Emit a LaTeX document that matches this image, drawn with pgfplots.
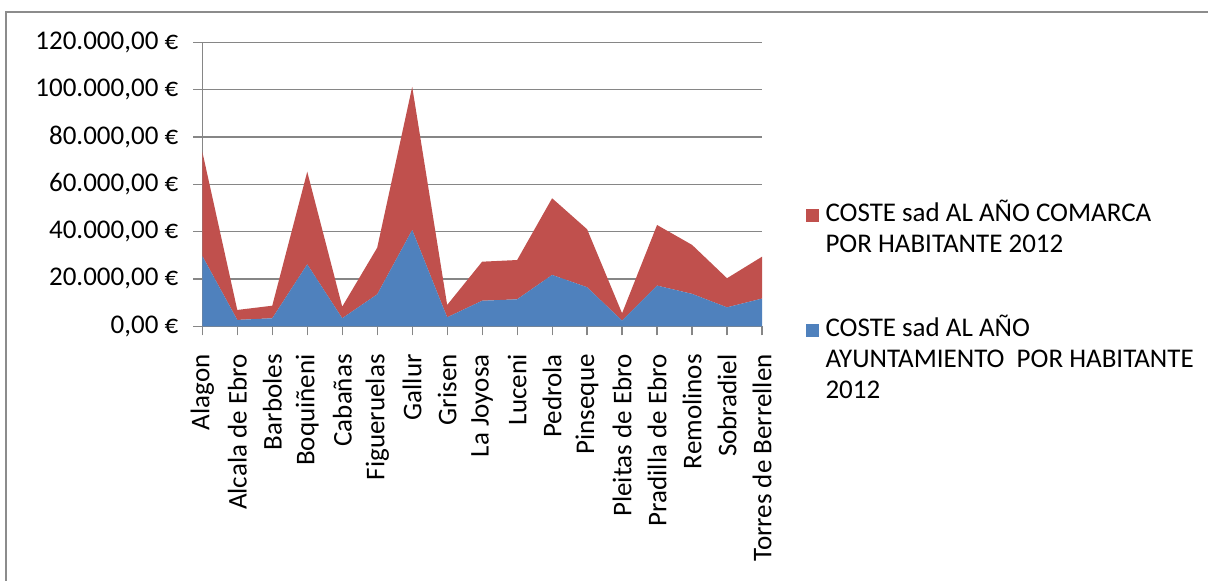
\documentclass[border=0pt]{standalone}
\usepackage{pgfplots}
\pgfplotsset{compat=1.18}
\usepackage{fontspec}
\setmainfont{Carlito}
\definecolor{comarca}{RGB}{192,80,77}
\definecolor{ayto}{RGB}{79,129,189}
\definecolor{gridgray}{RGB}{134,134,134}
\definecolor{framegray}{RGB}{140,140,140}
\newcommand\lbl{\fontsize{13.5}{15.5}\selectfont}
\begin{document}
\begin{tikzpicture}
% canvas: 1 px = 0.5 pt
\useasboundingbox[fill=white] (0pt,0pt) rectangle (604pt,290.5pt);
\draw[framegray, line width=1pt] (3pt,0pt) -- (3pt,284.5pt) -- (604pt,284.5pt);
\begin{axis}[
  at={(101.15pt,127.35pt)}, anchor=south west,
  scale only axis, width=279.85pt, height=142pt,
  xmin=0, xmax=16, ymin=0, ymax=120000,
  stack plots=y,
  scaled y ticks=false,
  axis x line*=bottom, axis y line*=left,
  axis line style={gridgray, line width=0.6pt},
  ytick={0,20000,40000,60000,80000,100000,120000},
  yticklabels={{0,00 €},{20.000,00 €},{40.000,00 €},{60.000,00 €},{80.000,00 €},{100.000,00 €},{120.000,00 €}},
  xtick={0,...,16},
  xticklabels={Alagon,Alcala de Ebro,Barboles,Boquiñeni,Cabañas,Figueruelas,Gallur,Grisen,La Joyosa,Luceni,Pedrola,Pinseque,Pleitas de Ebro,Pradilla de Ebro,Remolinos,Sobradiel,Torres de Berrellen},
  xticklabel style={yshift=-6pt, rotate=90, anchor=east, font=\lbl},
  yticklabel style={xshift=-4pt, font=\lbl},
  tick align=outside,
  major tick length=4.5pt,
  tick style={gridgray, line width=0.6pt},
  ymajorgrids, major grid style={gridgray, line width=0.6pt},
  reverse legend,
  legend style={at={(1.077,0.542)}, anchor=north west, draw=none, fill=none,
    font=\lbl, cells={anchor=north west}, row sep=21.5pt, inner sep=0pt},
  legend image code/.code={\path (0pt,0.3pt) (6.5pt,11.2pt);
    \fill[#1, overlay] (0pt,-13.2pt) rectangle (6.5pt,-6.7pt);},
]
\addplot[fill=ayto, draw=none] coordinates {
 (0,29700) (1,2700) (2,3400) (3,26200) (4,3400) (5,13500) (6,40700) (7,3800) (8,10800)
 (9,11400) (10,21700) (11,16500) (12,2400) (13,17200) (14,13700) (15,8000) (16,11700)
} \closedcycle;
\addlegendentry{\begin{tabular}{@{\hspace{1.5pt}}l@{}}COSTE sad AL AÑO\\AYUNTAMIENTO\ \ POR HABITANTE\\2012\end{tabular}}
\addplot[fill=comarca, draw=none] coordinates {
 (0,44100) (1,4200) (2,5300) (3,39100) (4,4900) (5,19700) (6,60500) (7,5200) (8,16500)
 (9,16600) (10,32400) (11,24500) (12,3100) (13,25600) (14,20700) (15,12300) (16,17700)
} \closedcycle;
\addlegendentry{\begin{tabular}{@{\hspace{1.5pt}}l@{}}COSTE sad AL AÑO COMARCA\\POR HABITANTE 2012\end{tabular}}
\end{axis}
\end{tikzpicture}
\end{document}
